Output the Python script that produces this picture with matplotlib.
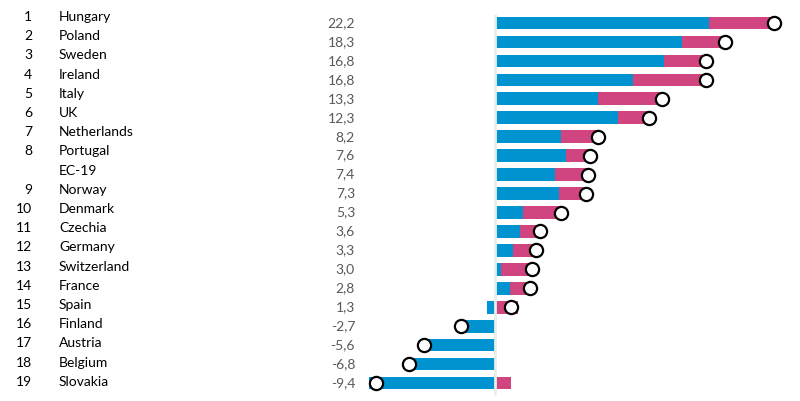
import matplotlib.pyplot as plt
import numpy as np

plt.rcParams['font.family'] = ['Lato', 'DejaVu Sans']

# Data
countries = ['Hungary', 'Poland', 'Sweden', 'Ireland', 'Italy', 'UK', 'Netherlands',
             'Portugal', 'EC-19', 'Norway', 'Denmark', 'Czechia', 'Germany',
             'Switzerland', 'France', 'Spain', 'Finland', 'Austria', 'Belgium', 'Slovakia']
ranks = ['1', '2', '3', '4', '5', '6', '7', '8', '', '9', '10', '11', '12',
         '13', '14', '15', '16', '17', '18', '19']
totals = [22.2, 18.3, 16.8, 16.8, 13.3, 12.3, 8.2, 7.6, 7.4, 7.3,
          5.3, 3.6, 3.3, 3.0, 2.8, 1.3, -2.7, -5.6, -6.8, -9.4]
blue_part = [17.1, 14.9, 13.5, 11.0, 8.2, 9.8, 5.3, 5.7, 4.8, 5.1,
             2.3, 2.0, 1.5, 0.5, 1.2, -0.6, -2.7, -5.3, -6.9, -10.0]
pink_part = [5.1, 3.4, 3.3, 5.8, 5.1, 2.5, 2.9, 1.9, 2.6, 2.2,
             3.0, 1.6, 1.8, 2.5, 1.6, 1.9, 0.0, -0.3, 0.1, 1.3]

BLUE = '#0093D0'
PINK = '#D0447F'

fig = plt.figure(figsize=(8, 4.01), dpi=100)
ax = fig.add_axes([0, 0, 1, 1])

y = np.arange(len(countries))
blue = np.array(blue_part)
pink = np.array(pink_part)

# pink stacks on the blue part when both have the same sign, otherwise starts at 0
pink_left = np.where(np.sign(pink) == np.sign(blue), blue, 0)

ax.barh(y, blue, height=0.67, color=BLUE, zorder=2)
ax.barh(y, pink, left=pink_left, height=0.67, color=PINK, zorder=2)
ax.plot(totals, y, 'o', ms=9.5, mfc='white', mec='black', mew=1.6, zorder=4)

# zero line
ax.vlines(0, -0.47, 19.63, color='#E3F1E8', lw=2, zorder=3)

# axis scaling: zero at x=494.5px, 12.57 px per unit; rows 18.95 px apart from y=23px
ax.set_xlim(-494.5 / 12.57, (800 - 494.5) / 12.57)
ax.set_ylim((401 - 23) / 18.95, -23 / 18.95)
ax.axis('off')

tr = ax.get_yaxis_transform()
for i, (r, c, v) in enumerate(zip(ranks, countries, totals)):
    # labels on the left are spaced a bit wider than the bars
    ly = (17 + 19.2 * i - 23) / 18.95
    ax.text(32 / 800, ly, r, transform=tr, ha='right', va='center', fontsize=10, color='black')
    ax.text(59 / 800, ly, c, transform=tr, ha='left', va='center', fontsize=10, color='black')
    ax.text(355 / 800, i, f"{v:.1f}".replace('.', ','), transform=tr,
            ha='right', va='center', fontsize=10, color='#595959')

plt.savefig('out.png', dpi=100)
